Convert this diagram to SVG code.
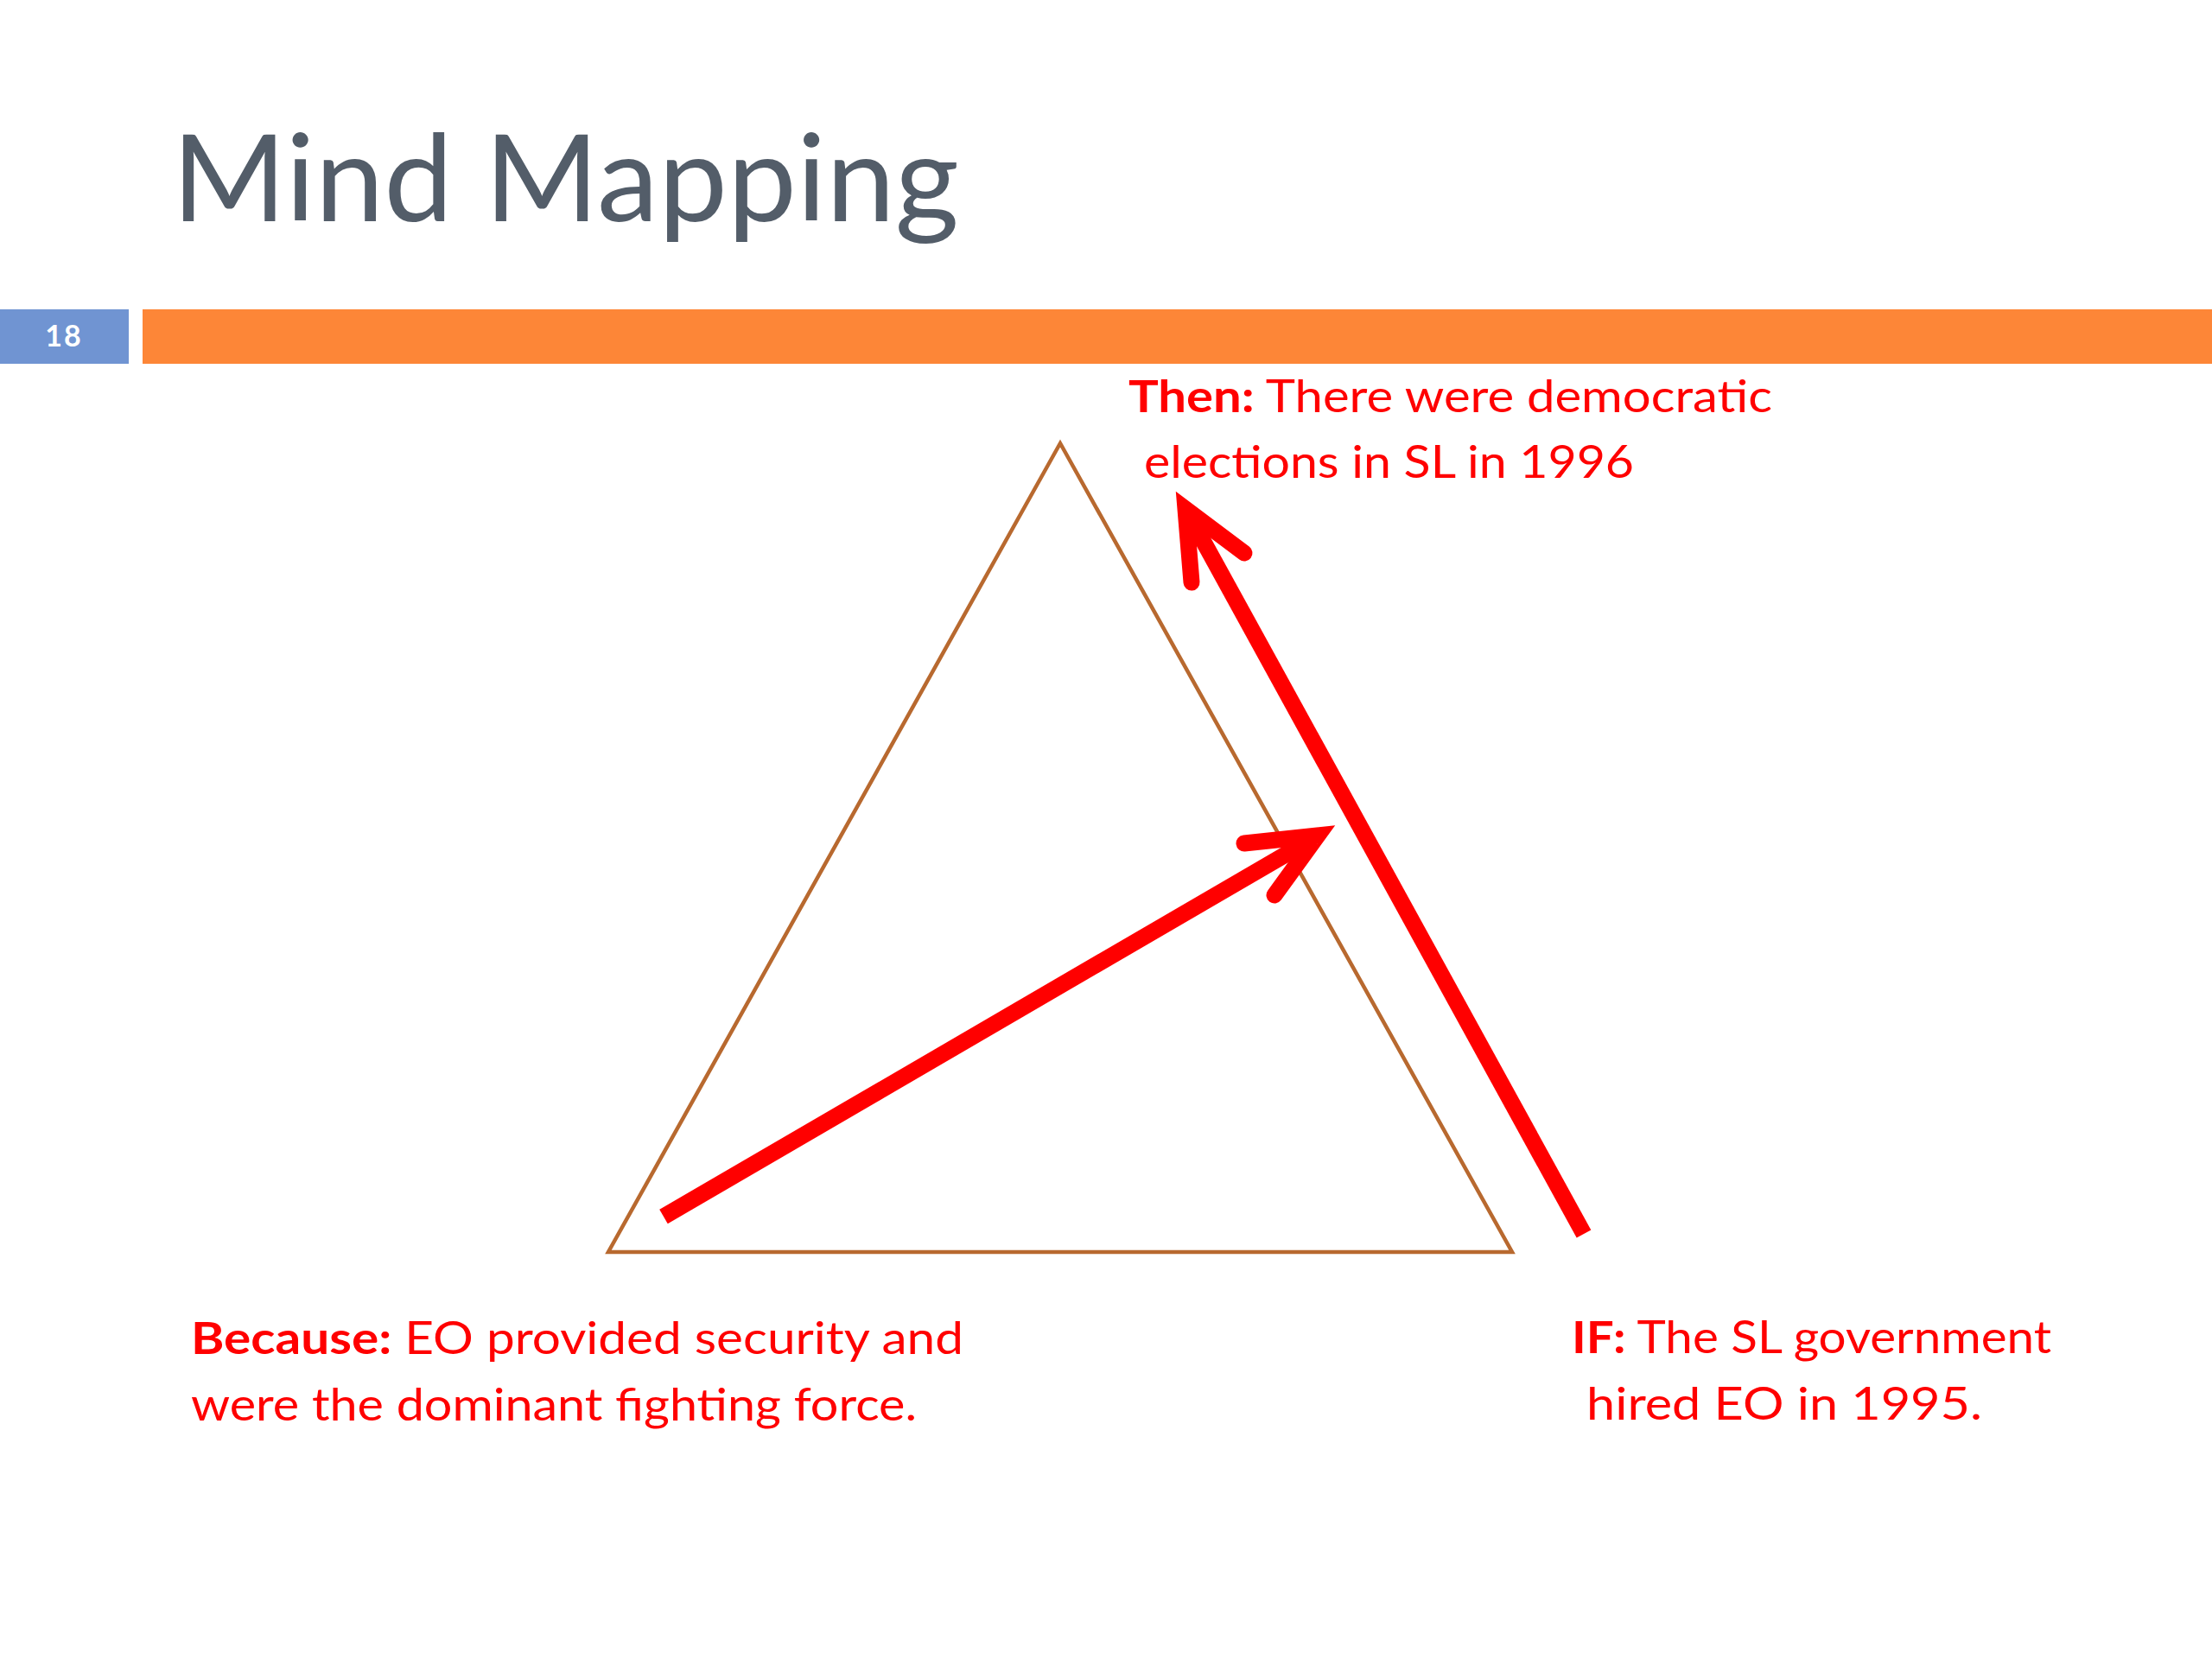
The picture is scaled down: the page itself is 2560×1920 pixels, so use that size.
<svg xmlns="http://www.w3.org/2000/svg" width="2560" height="1920" viewBox="0 0 2560 1920">
<style>
.lbl{font-family:Lato,"Liberation Sans",sans-serif;font-size:52px;fill:#FF0000}
.b{font-weight:bold}
.arrow{fill:none;stroke:#FF0000;stroke-width:19;stroke-linecap:round;stroke-linejoin:miter;stroke-miterlimit:6}
.shaft{fill:none;stroke:#FF0000;stroke-width:19;stroke-linecap:butt}
</style>
<rect width="2560" height="1920" fill="#FFFFFF"/>
<g id="title">
<text x="199" y="256" font-family="Lato,'Liberation Sans',sans-serif" font-size="139" fill="#535D69" textLength="911" lengthAdjust="spacingAndGlyphs">Mind Mapping</text>
</g>
<g id="slide-number">
<rect x="0" y="358" width="149" height="63" fill="#7094D2"/>
<text x="74" y="401" text-anchor="middle" font-family="Lato,'Liberation Sans',sans-serif" font-size="34" font-weight="bold" fill="#FFFFFF" letter-spacing="2">18</text>
</g>
<g id="header-bar">
<rect x="165" y="358" width="2395" height="63" fill="#FD8637"/>
</g>
<g id="triangle">
<polygon points="1227,513 704,1449 1750,1449" fill="none" stroke="#B8692F" stroke-width="4.5" stroke-linejoin="miter"/>
</g>
<g id="label-then">
<text class="lbl" x="1306" y="477" textLength="745" lengthAdjust="spacingAndGlyphs"><tspan class="b">Then:</tspan> There were democratic</text>
<text class="lbl" x="1324" y="553" textLength="567" lengthAdjust="spacingAndGlyphs">elections in SL in 1996</text>
</g>
<g id="label-because">
<text class="lbl" x="221" y="1567" textLength="894" lengthAdjust="spacingAndGlyphs"><tspan class="b">Because:</tspan> EO provided security and</text>
<text class="lbl" x="221" y="1644" textLength="840" lengthAdjust="spacingAndGlyphs">were the dominant fighting force.</text>
</g>
<g id="label-if">
<text class="lbl" x="1819" y="1566" textLength="555" lengthAdjust="spacingAndGlyphs"><tspan class="b">IF:</tspan> The SL government</text>
<text class="lbl" x="1836" y="1643" textLength="458" lengthAdjust="spacingAndGlyphs">hired EO in 1995.</text>
</g>
<g id="connectors">
<g id="arrow-because-to-then">
<line class="shaft" x1="768" y1="1408" x2="1517" y2="972"/>
<polyline class="arrow" points="1440,976 1525,967 1475,1036"/>
</g>
<g id="arrow-if-to-then">
<line class="shaft" x1="1833" y1="1428" x2="1377" y2="598"/>
<polyline class="arrow" points="1379,674 1372,589 1440,640"/>
</g>
</g>
</svg>
